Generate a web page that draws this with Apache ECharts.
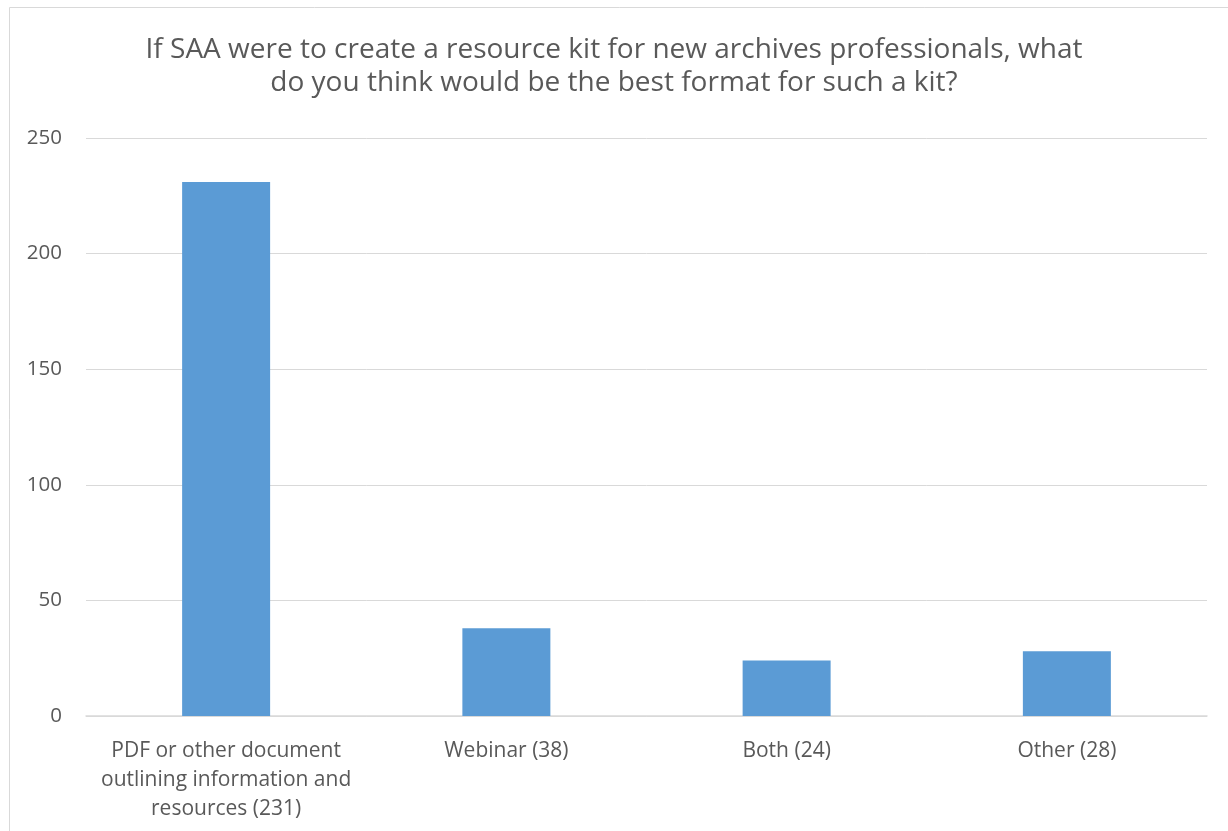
<!DOCTYPE html>
<html>
<head>
<meta charset="utf-8">
<script src="https://cdn.jsdelivr.net/npm/echarts@6/dist/echarts.min.js"></script>
<style>
  html, body { margin: 0; padding: 0; background: #fff; }
  #chart { width: 1228px; height: 831px; }
</style>
</head>
<body>
<div id="chart"></div>
<script>
// 数据
var titleText = "If SAA were to create a resource kit for new archives professionals, what\ndo you think would be the best format for such a kit?";
var categories = [
  "PDF or other document\noutlining information and\nresources (231)",
  "Webinar (38)",
  "Both (24)",
  "Other (28)"
];
var values = [231, 38, 24, 28];
var yTicks = { min: 0, max: 250, interval: 50 };

var myChart = echarts.init(document.getElementById("chart"));
var option = {
  animation: false,
  backgroundColor: "#fff",
  textStyle: { fontFamily: "Open Sans" },
  graphic: [
    {
      type: "rect",
      shape: { x: 9.5, y: 7.5, width: 1240, height: 840 },
      style: { fill: "none", stroke: "#d9d9d9", lineWidth: 1 },
      silent: true
    }
  ],
  title: {
    text: titleText,
    left: "center",
    top: 29,
    textStyle: {
      fontFamily: "Open Sans",
      fontSize: 28,
      fontWeight: "normal",
      color: "#595959",
      lineHeight: 33
    }
  },
  grid: {
    left: 86,
    right: 21,
    top: 138,
    bottom: 115
  },
  xAxis: {
    type: "category",
    data: categories,
    axisLine: { lineStyle: { color: "#d9d9d9", width: 1.5 } },
    axisTick: { show: false },
    axisLabel: {
      interval: 0,
      color: "#595959",
      fontSize: 21,
      lineHeight: 29,
      margin: 21
    }
  },
  yAxis: {
    type: "value",
    min: yTicks.min,
    max: yTicks.max,
    interval: yTicks.interval,
    axisLine: { show: false },
    axisTick: { show: false },
    splitLine: { lineStyle: { color: "#d9d9d9", width: 1 } },
    axisLabel: {
      color: "#595959",
      fontSize: 20.5,
      margin: 24
    }
  },
  series: [
    {
      type: "bar",
      data: values,
      barWidth: "31.4%",
      itemStyle: { color: "#5b9bd5" }
    }
  ]
};
// 绘制图表
myChart.setOption(option);
</script>
</body>
</html>
